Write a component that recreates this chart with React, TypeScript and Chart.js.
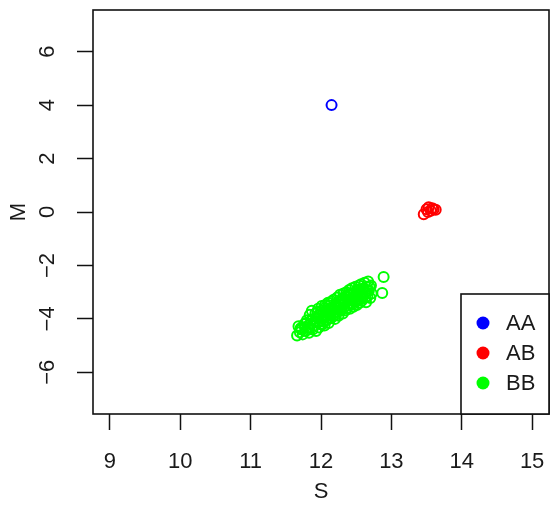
import React, { useEffect, useRef } from 'react';
import { Chart, registerables } from 'chart.js';

Chart.register(...registerables);

const groupLabels = ['AA', 'AB', 'BB'];
const groupColors = ['#0000FF', '#FF0000', '#00FF00'];

const aaS = [12.15];
const aaM = [4.0];

const abS = [13.46, 13.50, 13.53, 13.56, 13.60, 13.52, 13.58, 13.63];
const abM = [-0.08, 0.10, 0.18, 0.05, 0.10, 0.00, 0.14, 0.08];

const bbS = [
  11.66, 11.68, 11.70, 11.72, 11.74,
  11.76, 11.78, 11.80, 11.81, 11.83, 11.84, 11.85,
  11.87, 11.88, 11.89, 11.90, 11.92, 11.93, 11.94, 11.95,
  11.96, 11.97, 11.98, 12.00, 12.01, 12.02, 12.03, 12.04, 12.05,
  12.06, 12.07, 12.08, 12.09, 12.10, 12.11, 12.12, 12.13, 12.14, 12.15,
  12.16, 12.17, 12.18, 12.19, 12.20, 12.21, 12.22, 12.23, 12.24, 12.25,
  12.26, 12.27, 12.28, 12.29, 12.30, 12.31, 12.32, 12.33, 12.34, 12.35,
  12.36, 12.37, 12.38, 12.39, 12.40, 12.41, 12.42, 12.43, 12.44, 12.45,
  12.46, 12.47, 12.48, 12.49, 12.50, 12.51, 12.52, 12.53, 12.54, 12.55,
  12.56, 12.57, 12.58, 12.59, 12.60, 12.62, 12.63, 12.64, 12.65, 12.66, 12.67, 12.68, 12.70, 12.71, 12.72,
  11.71, 11.77, 11.79, 11.82, 11.86, 11.91, 11.95, 11.99, 12.00, 12.03,
  12.05, 12.08, 12.10, 12.12, 12.14, 12.17, 12.19, 12.21, 12.23, 12.25,
  12.27, 12.29, 12.31, 12.33, 12.35, 12.37, 12.39, 12.41, 12.43, 12.45,
  12.47, 12.49, 12.51, 12.53, 12.55, 12.57, 12.59, 12.61, 12.63, 12.66, 12.69,
  12.89, 12.87,
];
const bbM = [
  -4.62, -4.28, -4.50, -4.40, -4.58,
  -4.20, -4.45, -4.05, -4.32, -4.52, -3.85, -4.18,
  -3.70, -4.40, -4.00, -4.25, -3.80, -4.45, -3.95, -4.15,
  -3.62, -4.32, -3.85, -4.05, -3.52, -4.20, -3.75, -3.95, -4.25,
  -3.48, -3.70, -4.05, -3.88, -3.40, -4.15, -3.62, -3.80, -3.98, -3.35,
  -3.70, -3.90, -3.28, -3.55, -4.00, -3.42, -3.75, -3.20, -3.60, -3.88,
  -3.35, -3.10, -3.70, -3.48, -3.25, -3.80, -3.05, -3.55, -3.38, -3.68,
  -3.00, -3.20, -3.50, -3.32, -2.92, -3.62, -3.12, -3.42, -2.85, -3.25,
  -3.55, -3.02, -3.35, -2.80, -3.15, -3.48, -2.95, -3.28, -2.75, -3.40,
  -3.08, -2.70, -3.32, -2.90, -3.18, -2.65, -3.00, -3.38, -2.80, -3.15, -2.60, -2.95, -3.22, -2.75, -3.05,
  -4.35, -4.30, -4.15, -4.40, -4.05, -4.10, -3.75, -4.20, -3.70, -4.10,
  -3.60, -3.85, -3.95, -3.50, -3.85, -3.60, -3.75, -3.85, -3.50, -3.40,
  -3.58, -3.65, -3.30, -3.45, -3.15, -3.60, -3.10, -3.30, -3.05, -3.45,
  -3.20, -3.30, -3.05, -2.90, -3.15, -3.25, -3.05, -2.85, -3.20, -2.95, -2.80,
  -2.43, -3.03,
];

const xTicks = [9, 10, 11, 12, 13, 14, 15];
const yTicks = [-6, -4, -2, 0, 2, 4, 6];
const xRange = [8.76, 15.24];
const yRange = [-7.56, 7.56];

const FONT = '"Liberation Sans", Arial, Helvetica, sans-serif';
const TEXT = '#1a1a1a';
const FS = 22;

const toPoints = (xs: number[], ys: number[]) => xs.map((x, i) => ({ x, y: ys[i] }));

const framePlugin = {
  id: 'frameBox',
  afterDraw(chart: any) {
    const { ctx, chartArea: a } = chart;
    ctx.save();
    ctx.strokeStyle = '#111';
    ctx.lineWidth = 1.6;
    ctx.strokeRect(a.left, a.top, a.right - a.left, a.bottom - a.top);
    ctx.restore();
  },
};

const legendPlugin = {
  id: 'boxLegend',
  afterDraw(chart: any) {
    const { ctx, chartArea: a } = chart;
    const w = 88;
    const h = 120;
    const x0 = a.right - w;
    const y0 = a.bottom - h;
    ctx.save();
    ctx.fillStyle = '#fff';
    ctx.fillRect(x0, y0, w, h);
    ctx.strokeStyle = '#111';
    ctx.lineWidth = 1.6;
    ctx.strokeRect(x0, y0, w, h);
    ctx.font = `${FS}px ${FONT}`;
    ctx.textBaseline = 'middle';
    ctx.textAlign = 'left';
    chart.data.datasets.forEach((ds: any, i: number) => {
      const cy = y0 + 29 + i * 30;
      ctx.beginPath();
      ctx.arc(x0 + 22, cy, 6.5, 0, Math.PI * 2);
      ctx.fillStyle = ds.borderColor;
      ctx.fill();
      ctx.fillStyle = TEXT;
      ctx.fillText(ds.label, x0 + 45, cy + 1);
    });
    ctx.restore();
  },
};

export default function App() {
  const ref = useRef<HTMLCanvasElement | null>(null);

  useEffect(() => {
    if (!ref.current) return;
    const series = [toPoints(aaS, aaM), toPoints(abS, abM), toPoints(bbS, bbM)];
    const chart = new Chart(ref.current, {
      type: 'scatter',
      data: {
        datasets: series.map((pts, i) => ({
          label: groupLabels[i],
          data: pts,
          borderColor: groupColors[i],
          backgroundColor: 'rgba(0,0,0,0)',
          pointRadius: 5,
          pointBorderWidth: 2,
          pointStyle: 'circle',
        })),
      },
      options: {
        animation: false,
        responsive: false,
        devicePixelRatio: 1,
        layout: { autoPadding: false, padding: { top: 10, right: 1, left: 0, bottom: 0 } },
        plugins: {
          legend: { display: false },
          tooltip: { enabled: false },
        },
        scales: {
          x: {
            type: 'linear',
            min: xRange[0],
            max: xRange[1],
            afterBuildTicks: (s: any) => {
              s.ticks = xTicks.map((v) => ({ value: v }));
            },
            afterFit: (s: any) => {
              s.height = 91;
              s.paddingLeft = 0;
              s.paddingRight = 0;
              s.paddingTop = 0;
              s.paddingBottom = 0;
            },
            grid: {
              drawOnChartArea: false,
              drawTicks: true,
              tickLength: 16,
              tickWidth: 1.5,
              tickColor: '#111',
            },
            border: { display: false },
            ticks: {
              font: { family: FONT, size: FS },
              color: TEXT,
              padding: 19,
              maxRotation: 0,
              autoSkip: false,
              callback: (v: any) => String(v).replace('-', '\u2212'),
            },
            title: {
              display: true,
              text: 'S',
              font: { family: FONT, size: FS },
              color: TEXT,
              padding: { top: 0, bottom: 0 },
            },
          },
          y: {
            type: 'linear',
            min: yRange[0],
            max: yRange[1],
            afterBuildTicks: (s: any) => {
              s.ticks = yTicks.map((v) => ({ value: v }));
            },
            afterFit: (s: any) => {
              s.width = 93;
              s.paddingLeft = 0;
              s.paddingRight = 0;
              s.paddingTop = 0;
              s.paddingBottom = 0;
            },
            grid: {
              drawOnChartArea: false,
              drawTicks: true,
              tickLength: 16,
              tickWidth: 1.5,
              tickColor: '#111',
            },
            border: { display: false },
            ticks: {
              font: { family: FONT, size: FS },
              color: TEXT,
              padding: 17,
              minRotation: 90,
              maxRotation: 90,
              crossAlign: 'center',
              autoSkip: false,
              callback: (v: any) => String(v).replace('-', '\u2212'),
            },
            title: {
              display: true,
              text: 'M',
              font: { family: FONT, size: FS },
              color: TEXT,
              padding: { top: 6, bottom: 0 },
            },
          },
        },
      },
      plugins: [framePlugin, legendPlugin],
    });
    return () => chart.destroy();
  }, []);

  return (
    <div style={{ position: 'fixed', left: 0, top: 0, width: 550, height: 505, background: '#fff' }}>
      <canvas ref={ref} width={550} height={505} style={{ display: 'block' }} />
    </div>
  );
}
